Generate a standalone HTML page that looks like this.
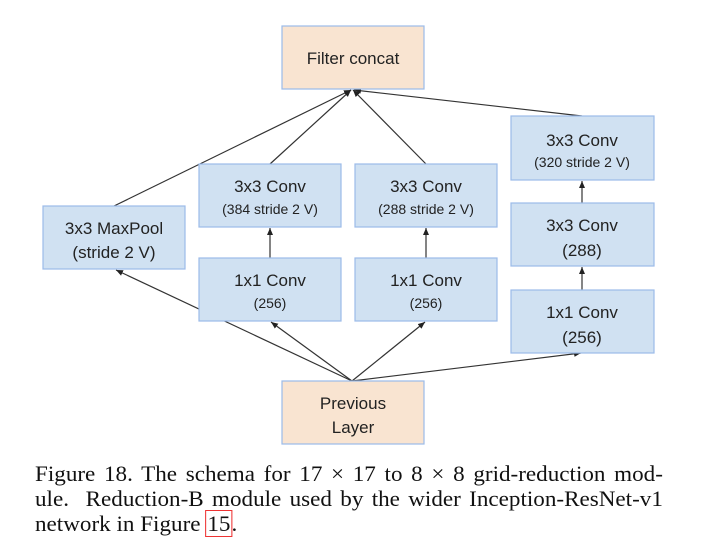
<!DOCTYPE html>
<html><head><style>
body{margin:0;background:#fff;width:708px;height:554px;overflow:hidden;position:relative}
.cap{position:absolute;left:35px;top:461px;width:598px;font-family:"Liberation Serif",serif;font-size:22px;line-height:25px;color:#111;white-space:nowrap;transform:scaleX(1.05);transform-origin:0 0}
.j{text-align:justify;text-align-last:justify}
.r{outline:1px solid #e33;outline-offset:0px;padding:0 1px}
</style></head><body>
<svg width="708" height="460" style="position:absolute;left:0;top:0" font-family="Liberation Sans, sans-serif" fill="#222">
<defs><marker id="a" markerWidth="8" markerHeight="8" refX="7" refY="3" orient="auto" markerUnits="userSpaceOnUse"><path d="M0,0 L7,3 L0,6 z" fill="#222"/></marker></defs>
<g stroke="#333" stroke-width="1.2" marker-end="url(#a)">
<line x1="114" y1="206" x2="351" y2="90"/>
<line x1="270" y1="164" x2="351" y2="90"/>
<line x1="426" y1="164" x2="353" y2="90"/>
<line x1="582" y1="116" x2="354" y2="90"/>
<line x1="352" y1="381" x2="116" y2="270"/>
<line x1="352" y1="381" x2="271" y2="322"/>
<line x1="352" y1="381" x2="425" y2="322"/>
<line x1="352" y1="381" x2="581" y2="353"/>
<line x1="270" y1="258" x2="270" y2="228"/>
<line x1="426" y1="258" x2="426" y2="228"/>
<line x1="582" y1="203" x2="582" y2="181"/>
<line x1="582" y1="290" x2="582" y2="267"/>
</g>
<g stroke="#9bbbe8" stroke-width="1.2">
<rect x="282" y="26" width="142" height="63" fill="#f9e4d1"/>
<rect x="43" y="206" width="142" height="63" fill="#d0e1f2"/>
<rect x="199" y="164" width="142" height="63" fill="#d0e1f2"/>
<rect x="199" y="258" width="142" height="63" fill="#d0e1f2"/>
<rect x="355" y="164" width="142" height="63" fill="#d0e1f2"/>
<rect x="355" y="258" width="142" height="63" fill="#d0e1f2"/>
<rect x="511" y="116" width="143" height="64" fill="#d0e1f2"/>
<rect x="511" y="203" width="143" height="63" fill="#d0e1f2"/>
<rect x="511" y="290" width="143" height="63" fill="#d0e1f2"/>
<rect x="282" y="381" width="142" height="63" fill="#f9e4d1"/>
</g>
<g text-anchor="middle" font-size="17">
<text x="353" y="64">Filter concat</text>
<text x="114" y="234">3x3 MaxPool</text><text x="114" y="258">(stride 2 V)</text>
<text x="270" y="192">3x3 Conv</text><text x="270" y="214" font-size="14">(384 stride 2 V)</text>
<text x="426" y="192">3x3 Conv</text><text x="426" y="214" font-size="14">(288 stride 2 V)</text>
<text x="270" y="286">1x1 Conv</text><text x="270" y="308" font-size="14">(256)</text>
<text x="426" y="286">1x1 Conv</text><text x="426" y="308" font-size="14">(256)</text>
<text x="582" y="146">3x3 Conv</text><text x="582" y="167" font-size="14">(320 stride 2 V)</text>
<text x="582" y="231">3x3 Conv</text><text x="582" y="256">(288)</text>
<text x="582" y="318">1x1 Conv</text><text x="582" y="343">(256)</text>
<text x="353" y="409">Previous</text><text x="353" y="433">Layer</text>
</g>
</svg>
<div class="cap"><div class="j">Figure 18. The schema for 17 × 17 to 8 × 8 grid-reduction mod-</div><div class="j">ule.&nbsp; Reduction-B module used by the wider Inception-ResNet-v1</div><div>network in Figure <span class="r">15</span>.</div></div>
</body></html>
